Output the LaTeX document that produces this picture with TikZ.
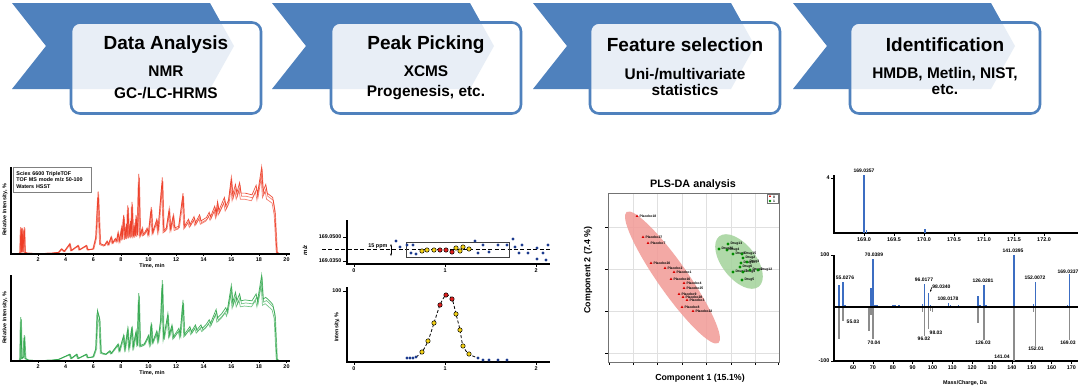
\documentclass[tikz,border=0pt]{standalone}
\usepackage{fontspec}
\setmainfont{Liberation Sans}
\usetikzlibrary{arrows.meta}

\definecolor{chevblue}{HTML}{4F81BD}
\definecolor{chromred}{HTML}{EE3B24}
\definecolor{chromgreen}{HTML}{2EA64A}
\definecolor{dotblue}{HTML}{1B3A8E}
\definecolor{dotyellow}{HTML}{F5D215}
\definecolor{dotred}{HTML}{E0201E}
\definecolor{plsred}{HTML}{F29A96}
\definecolor{plsgreen}{HTML}{A3D39B}
\definecolor{specblue}{HTML}{3C6DC2}
\definecolor{specgray}{HTML}{8C8C8C}

\newcommand{\ptfont}[1]{\fontsize{#1}{#1}\selectfont\bfseries}

% runs: time (min) / fraction of full scale
\def\redrun{(0.3,0) -- (0.7,0.01) -- (0.75,0.31) -- (0.8,0.02) -- (0.85,0.3) -- (0.9,0.02) -- (1.0,0.31) -- (1.05,0.02) -- (1.2,0.01) -- (2,0.005) -- (3,0.01) -- (3.5,0.02) -- (3.7,0.06) -- (3.9,0.03) -- (4.3,0.12) -- (4.4,0.04) -- (4.9,0.1) -- (5.0,0.05) -- (5.5,0.1) -- (5.6,0.05) -- (6.0,0.06) -- (6.2,0.2) -- (6.35,0.72) -- (6.5,0.12) -- (6.8,0.1) -- (7.0,0.15) -- (7.1,0.11) -- (7.3,0.2) -- (7.4,0.13) -- (7.6,0.18) -- (7.7,0.15) -- (7.8,0.25) -- (7.9,0.15) -- (8.05,0.3) -- (8.1,0.17) -- (8.2,0.45) -- (8.3,0.18) -- (8.4,0.35) -- (8.45,0.19) -- (8.5,0.56) -- (8.6,0.2) -- (8.7,0.38) -- (8.75,0.2) -- (8.8,0.6) -- (8.9,0.2) -- (9.0,0.32) -- (9.05,0.21) -- (9.1,0.45) -- (9.2,0.22) -- (9.3,0.92) -- (9.4,0.22) -- (9.55,0.3) -- (9.6,0.23) -- (9.7,0.24) -- (9.9,0.3) -- (10.0,0.23) -- (10.2,0.54) -- (10.3,0.25) -- (10.6,0.4) -- (10.7,0.27) -- (11.0,0.88) -- (11.1,0.27) -- (11.3,0.3) -- (11.5,0.52) -- (11.6,0.29) -- (11.8,0.45) -- (11.9,0.3) -- (12.2,0.32) -- (12.5,0.7) -- (12.6,0.32) -- (12.9,0.4) -- (13.0,0.34) -- (13.3,0.43) -- (13.4,0.36) -- (13.7,0.45) -- (13.8,0.38) -- (14.2,0.42) -- (14.4,0.48) -- (14.5,0.43) -- (14.8,0.55) -- (14.9,0.46) -- (15.0,0.6) -- (15.1,0.5) -- (15.5,0.65) -- (15.6,0.55) -- (15.8,0.62) -- (16.0,0.88) -- (16.1,0.68) -- (16.3,0.8) -- (16.4,0.7) -- (16.6,0.82) -- (16.7,0.7) -- (17.0,0.7) -- (17.5,0.68) -- (17.8,0.79) -- (17.9,0.69) -- (18.2,1.0) -- (18.3,0.72) -- (18.5,0.8) -- (18.6,0.7) -- (19.0,0.65) -- (19.15,0.5) -- (19.3,0.02) -- (19.5,0) -- (20,0)}
\def\greenrun{(0.3,0) -- (0.7,0.01) -- (0.75,0.51) -- (0.82,0.03) -- (0.95,0.05) -- (1.0,0.3) -- (1.08,0.03) -- (1.3,0.01) -- (2,0.005) -- (3,0.01) -- (3.5,0.02) -- (4.3,0.08) -- (4.4,0.03) -- (4.8,0.08) -- (4.9,0.03) -- (5.5,0.08) -- (5.6,0.04) -- (6.0,0.05) -- (6.2,0.15) -- (6.3,0.59) -- (6.45,0.5) -- (6.55,0.1) -- (6.9,0.08) -- (7.2,0.12) -- (7.3,0.09) -- (7.8,0.2) -- (7.9,0.12) -- (8.2,0.3) -- (8.3,0.14) -- (8.5,0.38) -- (8.6,0.15) -- (8.8,0.4) -- (8.9,0.16) -- (9.1,0.35) -- (9.2,0.18) -- (9.3,0.79) -- (9.4,0.18) -- (9.7,0.2) -- (10.0,0.3) -- (10.1,0.2) -- (10.2,0.45) -- (10.3,0.22) -- (10.6,0.35) -- (10.7,0.24) -- (10.9,0.5) -- (11.0,0.94) -- (11.1,0.26) -- (11.4,0.55) -- (11.5,0.3) -- (11.7,0.42) -- (11.8,0.28) -- (12.2,0.38) -- (12.3,0.3) -- (12.5,0.71) -- (12.6,0.31) -- (13.0,0.4) -- (13.1,0.34) -- (13.4,0.42) -- (13.5,0.36) -- (13.8,0.42) -- (13.9,0.38) -- (14.2,0.43) -- (14.4,0.48) -- (14.5,0.44) -- (14.9,0.6) -- (15.0,0.5) -- (15.3,0.55) -- (15.6,0.62) -- (15.7,0.58) -- (16.0,0.88) -- (16.1,0.68) -- (16.3,0.8) -- (16.4,0.7) -- (16.6,0.78) -- (16.7,0.7) -- (17.0,0.71) -- (17.5,0.7) -- (17.8,0.78) -- (17.9,0.7) -- (18.2,1.0) -- (18.3,0.72) -- (18.5,0.74) -- (18.7,0.71) -- (19.0,0.66) -- (19.15,0.55) -- (19.3,0.02) -- (19.5,0) -- (20,0)}

\begin{document}
\begin{tikzpicture}[x=0.5pt,y=-0.5pt,
  stepbox/.style={draw=chevblue, line width=1.3pt, rounded corners=4.5pt, fill=white, fill opacity=0.87, minimum width=95pt, minimum height=45.5pt, inner sep=0pt},
  steptitle/.style={font=\fontsize{9.5}{11}\selectfont\bfseries, inner sep=0pt},
  stepsub/.style={font=\fontsize{7.7}{9}\selectfont\bfseries, inner sep=0pt},
  ticklab/.style={font=\ptfont{2.7}, inner sep=0.6pt},
  axislab/.style={font=\ptfont{2.7}, inner sep=0pt},
  axisline/.style={line width=0.55pt},
  plslab/.style={font=\ptfont{1.7}, inner sep=0.3pt, anchor=west},
  peaklab/.style={font=\ptfont{2.5}, inner sep=0pt}]
\useasboundingbox (0,0) rectangle (1084,388);
\fill[white] (0,0) rectangle (1084,388);

% workflow chevrons
\foreach \L in {12,272,533,793}
  \fill[chevblue] (\L,3) -- ++(198,0) -- ++(24,43) -- ++(-24,43) -- ++(-198,0) -- ++(34,-43) -- cycle;
\node[stepbox] (analysis) at (166,68) {};
\node[stepbox] (picking) at (426,68) {};
\node[stepbox] (selection) at (685,68) {};
\node[stepbox] (identification) at (945,68) {};
\node[steptitle] (analysis-t) at (166,45) {Data Analysis};
\node[stepsub] (analysis-a) at (166,71) {NMR};
\node[stepsub] (analysis-b) at (166,93) {GC-/LC-HRMS};
\node[steptitle] (picking-t) at (426,45) {Peak Picking};
\node[stepsub] (picking-a) at (426,71) {XCMS};
\node[stepsub] (picking-b) at (426,93) {Progenesis, etc.};
\node[steptitle] (selection-t) at (685,45) {Feature selection};
\node[stepsub] (selection-a) at (685,74) {Uni-/multivariate};
\node[stepsub] (selection-b) at (685,90) {statistics};
\node[steptitle] (identification-t) at (945,45) {Identification};
\node[stepsub] (identification-a) at (945,74) {HMDB, Metlin, NIST,};
\node[stepsub] (identification-b) at (945,90) {etc.};

% chromatograms
\begin{scope}[shift={(10.5,254)},x=6.9pt,y=43.5pt]
  \draw[chromred, line width=0.35pt, opacity=0.9] \redrun;
  \draw[chromred, line width=0.35pt, opacity=0.65, yscale=0.95, xshift=0.3pt] \redrun;
  \draw[chromred, line width=0.35pt, opacity=0.65, yscale=0.9, xshift=-0.3pt] \redrun;
\end{scope}
\begin{scope}[shift={(10.5,361)},x=6.9pt,y=43pt]
  \draw[chromgreen, line width=0.35pt, opacity=0.9] \greenrun;
  \draw[chromgreen, line width=0.35pt, opacity=0.65, yscale=0.95, xshift=0.3pt] \greenrun;
  \draw[chromgreen, line width=0.35pt, opacity=0.65, yscale=0.9, xshift=-0.3pt] \greenrun;
\end{scope}
\draw[axisline] (11,167) -- (11,254) -- (290,254);
\draw[axisline] (11,275) -- (11,361) -- (290,361);
\foreach \t in {2,4,...,20} {
  \draw[line width=0.3pt] ({10.5+13.8*\t},254) -- ++(0,2) node[below, ticklab] (rta\t) {\t};
  \draw[line width=0.3pt] ({10.5+13.8*\t},361) -- ++(0,2) node[below, ticklab] (rtb\t) {\t};
}
\node[axislab] (timea) at (152,266) {Time, min};
\node[axislab] (timeb) at (152,373) {Time, min};
\node[axislab, rotate=90] (rela) at (5,210) {Relative Intensity, \%};
\node[axislab, rotate=90] (relb) at (5,318) {Relative Intensity, \%};
\node[draw=gray, line width=0.4pt, fill=white, anchor=north west, align=left, text width=36pt, minimum height=12.5pt, inner xsep=1.5pt, inner ysep=1pt, font=\fontsize{2.7}{3.1}\selectfont\bfseries] (runinfo) at (13,167) {Sciex 6600 TripleTOF\\TOF MS mode m/z 50-100\\Waters HSST};

% m/z trace
\draw[axisline] (347,220) -- (347,264) -- (550,264);
\draw[line width=0.3pt] (347,237) -- (343,237) node[left, ticklab] (mzhi) {169.0500};
\draw[line width=0.3pt] (347,261) -- (343,261) node[left, ticklab] (mzlo) {169.0350};
\node[axislab, rotate=90, font=\fontsize{3}{3}\selectfont\bfseries\itshape] (mzlab) at (305,250) {m/z};
\foreach \u/\x in {0/354,1/445,2/536}
  \draw[line width=0.3pt] (\x,264) -- (\x,267) node[below, ticklab] (mzt\u) {\u};
\draw[line width=0.5pt, dash pattern=on 2pt off 1.2pt] (322,249) -- (550,249);
\draw[line width=0.45pt, black!75] (406,242) rectangle (509,257);
\coordinate (ppmtop) at (391,244);
\coordinate (ppmbot) at (391,256);
\draw[line width=0.3pt, {Stealth[length=1.3pt]}-{Stealth[length=1.3pt]}] (ppmtop) -- (ppmbot);
\node[ticklab, anchor=east] (ppm) at (389,246) {15 ppm};
\foreach \x/\y in {396/241,400/247,407/245,411/253,413/245,416/254,475/241,478/253,483/245,489/252,498/245,507/245,513/239,515/247,519/253,522/245,528/253,537/248,537/259,543/253,546/260,548/245}
  \fill[dotblue] (\x,\y) circle[radius=0.8pt];
\foreach \x/\y/\c in {422/251/dotyellow,427/250/dotyellow,434/250/dotyellow,440/250/dotred,446/250/dotred,452/252/dotred,456/248/dotyellow,460/251/dotyellow,463/247/dotyellow,469/249/dotyellow}
  \filldraw[fill=\c, draw=black, line width=0.25pt] (\x,\y) circle[radius=1.1pt];

% extracted ion peak
\draw[axisline] (347,287) -- (347,362) -- (550,362);
\draw[line width=0.3pt] (347,291) -- (343,291) node[left, ticklab] (int100) {100};
\node[axislab, rotate=90] (intlab) at (337,327) {Intensity, \%};
\foreach \u/\x in {0/354,1/445,2/536}
  \draw[line width=0.3pt] (\x,362) -- (\x,365) node[below, ticklab] (eic\u) {\u};
\draw[line width=0.4pt, dash pattern=on 1.5pt off 1pt] plot[smooth] coordinates {(416,357) (422,352) (428,341) (434,323) (440,305) (446,295) (452,299) (456,314) (460,330) (463,346) (469,354) (478,358)};
\foreach \x/\y in {407/358,410/358,413/358,416/357,478/358,483/360,489/360,498/360,507/360}
  \fill[dotblue] (\x,\y) circle[radius=0.8pt];
\foreach \x/\y/\c in {422/352/dotyellow,428/341/dotyellow,434/323/dotyellow,440/305/dotred,446/295/dotred,452/299/dotred,456/314/dotyellow,460/330/dotyellow,463/346/dotyellow,469/354/dotyellow}
  \filldraw[fill=\c, draw=black, line width=0.25pt] (\x,\y) circle[radius=1.1pt];

% PLS-DA scores
\node[font=\ptfont{5.4}, inner sep=0pt] (plstitle) at (693,185) {PLS-DA analysis};
\foreach \gx in {633,657,682,706,731,755}
  \draw[black!12, line width=0.3pt] (\gx,193) -- (\gx,362);
\foreach \gy in {227,269,311,353} {
  \draw[black!12, line width=0.3pt] (608,\gy) -- (779,\gy);
  \draw[line width=0.3pt] (608,\gy) -- (605,\gy);
}
\foreach \gx in {609,633,657,682,706,731,755,778}
  \draw[line width=0.3pt] (\gx,362) -- (\gx,365);
\fill[plsred, fill opacity=0.85, rotate around={-55:(672.5,277.5)}] (672.5,277.5) ellipse[x radius=40pt, y radius=7.5pt];
\fill[plsgreen, fill opacity=0.85, rotate around={-52:(739,261.5)}] (739,261.5) ellipse[x radius=16pt, y radius=8.5pt];
\draw[black!55, line width=0.45pt] (608,193) rectangle (779,362);
\foreach \x/\y/\n in {637/216/Placebo18,643/237/Placebo27,648/243/Placebo7,651/263/Placebo20,665/268/Placebo2,674/272/Placebo1,671/279/Placebo16,684/283/Placebo4,684/288/Placebo25,679/294/Placebo9,683/297/Placebo28,687/300/Placebo3,682/307/Placebo8,693/311/Placebo22} {
  \fill[red!85!black] (\x,\y) ++(0,-1.5) -- ++(1.3,2.3) -- ++(-2.6,0) -- cycle;
  \node[plslab] (p\n) at ({\x+1.5},\y) {\n};
}
\foreach \x/\y/\n in {728/244/Drug13,727/250/Drug4,719/249/Drug20,733/254/Drug8,742/254/Drug15,743/258/Drug2,741/263/Drug11,740/267/Drug6,733/272/Drug17,743/272/Drug9,750/270/Drug1,758/270/Drug12,742/280/Drug5,747/262/Drug3} {
  \fill[green!55!black] (\x,\y) circle[radius=0.8pt];
  \node[plslab] (d\n) at ({\x+1.5},\y) {\n};
}
\draw[black!55, line width=0.3pt, fill=white] (767,194) rectangle (778,203);
\fill[red!85!black] (770,196) ++(0,-1) -- ++(1,1.8) -- ++(-2,0) -- cycle;
\node[plslab] (leg0) at (772,197) {0};
\fill[green!55!black] (770,201) circle[radius=0.7pt];
\node[plslab] (leg1) at (772,201) {1};
\node[font=\ptfont{4.4}, inner sep=0pt, rotate=90] (comp2) at (588,270) {Component 2 (7.4 \%)};
\node[font=\ptfont{4.4}, inner sep=0pt] (comp1) at (700,378) {Component 1 (15.1\%)};

% precursor spectrum
\draw[axisline] (834,175) -- (834,233) -- (1078,233);
\draw[line width=0.3pt] (834,178) -- (831,178) node[left, ticklab] (ms1top) {4};
\foreach \v/\x in {169.0/864,169.5/894,170.0/924,170.5/954,171.0/984,171.5/1014,172.0/1044}
  \draw[line width=0.3pt] (\x,233) -- (\x,236) node[below, ticklab] (ms1\x) {\v};
\draw[specblue, line width=0.9pt] (864,233) -- (864,175);
\draw[specblue, line width=0.6pt] (925,233) -- (925,229);
\draw[specblue, line width=0.4pt] (866,233) -- (866,230);
\node[peaklab, anchor=south] (prec) at (864,173) {169.0357};

% mirror plot of fragments
\draw[axisline] (834,255) -- (834,361) -- (1078,361);
\draw[line width=0.3pt] (834,255) -- (831,255) node[left, ticklab] (ms2top) {100};
\draw[line width=0.3pt] (834,361) -- (831,361) node[left, ticklab] (ms2bot) {-100};
\foreach \m in {60,70,...,170}
  \draw[line width=0.3pt] ({734+1.985*\m},361) -- ++(0,3) node[below, ticklab] (ms2t\m) {\m};
\foreach \m/\h in {53/42,55/48,56/4,58/2,69/37,70/92,71/4,72/3,80/3,81/3,83/4,95/5,96/44,98/27,99/3,108/8,109/4,113/4,123/21,124/3,126/42,127/3,141/100,142/2,151/6,152/48,153/2,168/3,169/63}
  \draw[specblue, line width=0.75pt] ({734+1.985*\m},307) -- ++(0,{-0.52*\h});
\foreach \m/\h in {53/60,55/25,68/44,69/14,70/60,95/10,96/53,98/40,99/8,100/10,123/30,126/61,141/100,151/10,152/73,169/61}
  \draw[specgray, line width=0.75pt] ({734+1.985*\m},307) -- ++(0,{0.54*\h});
\draw[line width=0.8pt] (834,307) -- (1078,307);
\node[peaklab, anchor=south] (f55) at (845,280) {55.0276};
\node[peaklab, anchor=south] (f70) at (874,257) {70.0389};
\node[peaklab, anchor=south] (f96) at (924,282) {96.0177};
\node[peaklab, anchor=west] (f98) at (932,287) {98.0340};
\coordinate (f98peak) at (930,292);
\draw[line width=0.3pt, -{Stealth[length=1.2pt]}] (f98.west) -- (f98peak);
\node[peaklab, anchor=south] (f108) at (948,301) {108.0178};
\node[peaklab, anchor=south] (f126) at (983,283) {126.0281};
\node[peaklab, anchor=south] (f141) at (1013,253) {141.0395};
\node[peaklab, anchor=south] (f152) at (1035,280) {152.0072};
\node[peaklab, anchor=south] (f169) at (1068,274) {169.0337};
\node[peaklab] (r55) at (853,322) {55.03};
\node[peaklab] (r70) at (874,343) {70.04};
\node[peaklab] (r96) at (924,339) {96.02};
\node[peaklab] (r98) at (936,333) {98.03};
\node[peaklab] (r126) at (983,343) {126.03};
\node[peaklab] (r141) at (1002,357) {141.04};
\node[peaklab] (r152) at (1036,349) {152.01};
\node[peaklab] (r169) at (1068,343) {169.03};
\node[axislab] (mzda) at (965,383) {Mass/Charge, Da};
\end{tikzpicture}
\end{document}
